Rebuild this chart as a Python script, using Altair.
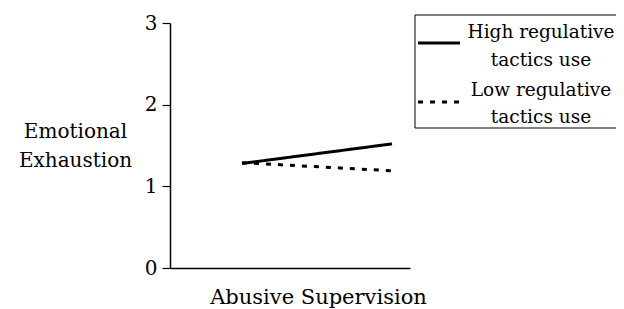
import altair as alt
import pandas as pd

# Data
abuse_levels = [-1, 1]
high_tactics = [1.28, 1.52]
low_tactics = [1.29, 1.19]
groups = ["High regulative tactics use", "Low regulative tactics use"]
y_ticks = [0, 1, 2, 3]

rows = []
for x, v in zip(abuse_levels, high_tactics):
    rows.append({"x": x, "y": v, "group": groups[0]})
for x, v in zip(abuse_levels, low_tactics):
    rows.append({"x": x, "y": v, "group": groups[1]})
df = pd.DataFrame(rows)

FONT = "DejaVu Serif"

x_scale = alt.Scale(domain=[-1.96, 1.24], nice=False, zero=False)
y_scale = alt.Scale(domain=[0, 3], nice=False)

lines = alt.Chart(df).mark_line(color="black", strokeWidth=3).encode(
    x=alt.X("x:Q", scale=x_scale,
            axis=alt.Axis(title="Abusive Supervision", ticks=False, labels=False, grid=False,
                          domainColor="black", domainWidth=1.5,
                          titleFont=FONT, titleFontSize=21, titleFontWeight="normal",
                          titleColor="black", titleX=148, titleY=35, titleAlign="center",
                          titleBaseline="alphabetic")),
    y=alt.Y("y:Q", scale=y_scale,
            axis=alt.Axis(title=["Emotional", "Exhaustion"], values=y_ticks, format="d",
                          grid=False, domainColor="black", domainWidth=1.5,
                          tickColor="black", tickSize=8, tickWidth=1.2,
                          labelFont=FONT, labelFontSize=20, labelColor="black", labelPadding=5,
                          titleFont=FONT, titleFontSize=20, titleFontWeight="normal",
                          titleColor="black", titleAngle=0, titleX=-95, titleY=108,
                          titleAlign="center", titleBaseline="middle", titleLineHeight=29)),
    strokeDash=alt.StrokeDash("group:N",
                              scale=alt.Scale(domain=groups, range=[[1, 0], [5, 7]]),
                              legend=None),
    detail="group:N",
)

# Legend box drawn manually
box = alt.Chart(pd.DataFrame({"a": [0]})).mark_rect(
    fill="white", stroke="black", strokeWidth=1
).encode(x=alt.value(245), x2=alt.value(450), y=alt.value(-8), y2=alt.value(105))

leg_high = alt.Chart(pd.DataFrame({"a": [0]})).mark_rule(color="black", strokeWidth=3).encode(
    x=alt.value(248), x2=alt.value(290), y=alt.value(20))
leg_low = alt.Chart(pd.DataFrame({"a": [0]})).mark_rule(
    color="black", strokeWidth=3, strokeDash=[5, 7]).encode(
    x=alt.value(248), x2=alt.value(290), y=alt.value(79))

legend_text = pd.DataFrame({
    "t": ["High regulative", "tactics use", "Low regulative", "tactics use"],
    "py": [9, 37, 67, 94],
})
leg_txt = alt.Chart(legend_text).mark_text(
    font=FONT, fontSize=18.5, color="black", align="center", baseline="middle"
).encode(x=alt.value(371), y=alt.Y("py:Q", scale=None, axis=None), text="t:N")

chart = alt.layer(lines, box, leg_high, leg_low, leg_txt).properties(
    width=240, height=245,
    background="white",
    autosize=alt.AutoSizeParams(type="none"),
    padding={"left": 162, "top": 15, "right": 206, "bottom": 41},
).configure_view(strokeWidth=0, stroke="transparent")

chart.save("out.html", embed_options={"renderer": "svg", "actions": False})
